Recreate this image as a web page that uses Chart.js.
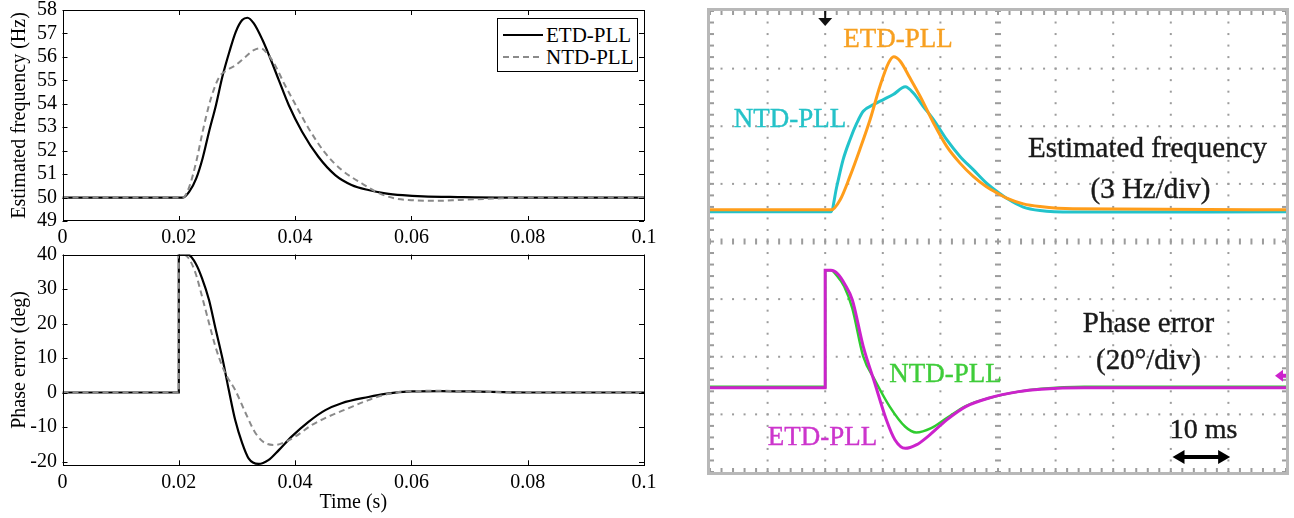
<!DOCTYPE html>
<html>
<head>
<meta charset="utf-8">
<title>ETD-PLL / NTD-PLL</title>
<script src="https://cdn.jsdelivr.net/npm/chart.js@4.4.1/dist/chart.umd.min.js"></script>
<style>
    html, body { margin: 0; padding: 0; background: #fff; }
    body {
        width: 1294px; height: 518px; position: relative; overflow: hidden;
        font-family: 'Liberation Serif', 'Times New Roman', serif;
    }
    canvas { position: absolute; }
    #freqChart { left: 0; top: 0; }
    #phaseChart { left: 0; top: 244px; }

    /* MATLAB style legend */
    .legend {
        position: absolute; left: 497px; top: 18px; width: 141px; height: 54px;
        box-sizing: border-box; border: 1px solid #000; background: #fff;
        padding: 5px 0 0 5px; font-size: 21px; color: #000;
    }
    .legend-item { display: flex; align-items: center; height: 22px; line-height: 22px; }
    .legend-item svg { width: 40px; height: 22px; margin-right: 3px; flex: none; }

    /* oscilloscope screenshot */
    #scopeWrap { position: absolute; left: 700px; top: 0; width: 594px; height: 518px; filter: blur(0.5px); }
    #scopeChart { left: 0; top: 0; }
    .scope-label {
        position: absolute; transform: translate(-50%, -50%);
        line-height: 1; white-space: nowrap;
        -webkit-text-stroke: 0.4px currentColor;
    }
</style>
</head>
<body>
<canvas id="freqChart" width="670" height="250"></canvas>
<canvas id="phaseChart" width="670" height="274"></canvas>
<div class="legend" id="simLegend"></div>

<div id="scopeWrap">
    <canvas id="scopeChart" width="594" height="490"></canvas>
    <div class="scope-label" style="left:198px; top:37.5px; font-size:27px; color:#f7a021;">ETD-PLL</div>
    <div class="scope-label" style="left:90px; top:117.5px; font-size:27px; color:#25c2c8;">NTD-PLL</div>
    <div class="scope-label" style="left:447.5px; top:147px; font-size:29px; color:#1a1a1a;">Estimated frequency</div>
    <div class="scope-label" style="left:450.5px; top:187.5px; font-size:29px; color:#1a1a1a;">(3 Hz/div)</div>
    <div class="scope-label" style="left:448.5px; top:322px; font-size:29px; color:#1a1a1a;">Phase error</div>
    <div class="scope-label" style="left:448.5px; top:359px; font-size:29px; color:#1a1a1a;">(20°/div)</div>
    <div class="scope-label" style="left:245.5px; top:372.5px; font-size:27px; color:#3fcc3a;">NTD-PLL</div>
    <div class="scope-label" style="left:122.5px; top:436px; font-size:27px; color:#cc35cc;">ETD-PLL</div>
    <div class="scope-label" style="left:503.5px; top:428.5px; font-size:28px; color:#1a1a1a;">10 ms</div>
</div>

<script>
// ===== 仿真结果 (左) =====
const SERIES_LABELS = ['ETD-PLL', 'NTD-PLL'];

const TIME_TICKS = [0, 0.02, 0.04, 0.06, 0.08, 0.1];
const TIME_LABELS = ['0', '0.02', '0.04', '0.06', '0.08', '0.1'];
const FREQ_TICKS = [49, 50, 51, 52, 53, 54, 55, 56, 57, 58];
const PHASE_TICKS = [-20, -10, 0, 10, 20, 30, 40];

// 估计频率 (Hz)
const freqEtdTime = [0, 0.0207, 0.0218, 0.023, 0.0241, 0.0252, 0.0264, 0.0275, 0.0287, 0.0298, 0.0309, 0.0318, 0.0329, 0.0344, 0.0355, 0.0372, 0.0389, 0.0412, 0.044, 0.0469, 0.0497, 0.0526, 0.0555, 0.0585, 0.062, 0.068, 0.075, 0.1];
const freqEtdHz = [50, 50, 50.25, 50.82, 51.68, 52.81, 53.95, 55.16, 56.22, 57.07, 57.57, 57.67, 57.43, 56.72, 56.08, 55.01, 53.95, 52.81, 51.74, 50.96, 50.54, 50.32, 50.18, 50.1, 50.05, 50.02, 50, 50];
const freqNtdTime = [0, 0.0207, 0.0218, 0.023, 0.0241, 0.0252, 0.0261, 0.027, 0.0281, 0.0298, 0.0315, 0.0329, 0.0341, 0.0352, 0.0367, 0.0381, 0.0401, 0.0423, 0.0452, 0.048, 0.0515, 0.0543, 0.0572, 0.06, 0.064, 0.0685, 0.0743, 0.08, 0.1];
const freqNtdHz = [50, 50, 50.46, 51.53, 52.81, 53.95, 54.66, 55.16, 55.4, 55.65, 56.01, 56.29, 56.37, 56.15, 55.58, 54.87, 53.95, 52.96, 51.89, 51.18, 50.6, 50.2, 49.96, 49.89, 49.86, 49.9, 49.96, 50, 50];

// 相位误差 (deg)
const phaseEtdTime = [0, 0.02, 0.02, 0.0207, 0.0217, 0.0229, 0.024, 0.0252, 0.0263, 0.0275, 0.0286, 0.0297, 0.0309, 0.032, 0.0337, 0.0354, 0.0372, 0.0394, 0.0423, 0.0452, 0.048, 0.0526, 0.0555, 0.06, 0.065, 0.07, 0.08, 0.1];
const phaseEtdDeg = [0, 0, 40, 40, 39.9, 37.4, 33.1, 26.8, 18.6, 9.9, 0.7, -8.0, -14.7, -19.1, -20.7, -19.6, -16.7, -12.8, -8.5, -5.1, -3.1, -1.3, -0.4, 0.3, 0.4, 0.3, 0, 0];
const phaseNtdTime = [0, 0.02, 0.02, 0.0207, 0.0217, 0.0229, 0.024, 0.0252, 0.0263, 0.0275, 0.0283, 0.0297, 0.0315, 0.0332, 0.0349, 0.0366, 0.0383, 0.04, 0.0429, 0.0457, 0.0491, 0.0526, 0.0555, 0.06, 0.065, 0.07, 0.08, 0.1];
const phaseNtdDeg = [0, 0, 40, 40, 38.9, 34.5, 27.8, 20.1, 13.3, 7.5, 4.6, 0.7, -6.0, -11.8, -14.7, -15.2, -14.3, -12.8, -9.4, -7.0, -4.6, -2.2, -0.6, 0.4, 0.5, 0.3, 0, 0];

// ===== 示波器实测 (右), 时间单位 ms =====
const scopeFreqEtdMs = [0, 21.1, 22.6, 24.3, 26.0, 27.8, 29.5, 31.0, 31.9, 33.0, 34.7, 36.5, 38.8, 41.1, 43.4, 45.7, 48.0, 50.3, 51.5, 54.4, 57.3, 63, 100];
const scopeFreqEtdHz = [50, 50, 50.52, 51.74, 53.13, 54.7, 56.43, 57.65, 57.97, 57.75, 56.87, 55.9, 54.52, 53.3, 52.43, 51.74, 51.2, 50.8, 50.61, 50.31, 50.17, 50.05, 50];
const scopeFreqNtdMs = [0, 21.0, 22.0, 23.1, 24.3, 25.5, 26.6, 28.4, 30.1, 31.8, 33.9, 35.3, 37.0, 38.8, 41.1, 43.4, 45.7, 48.0, 50.3, 51.5, 54.4, 57.3, 63, 100];
const scopeFreqNtdHz = [49.9, 49.9, 51.2, 52.6, 53.65, 54.52, 55.13, 55.48, 55.74, 56.0, 56.4, 56.08, 55.39, 54.7, 53.65, 52.78, 52.09, 51.39, 50.85, 50.6, 50.14, 49.96, 49.88, 49.9];
const scopePhaseEtdMs = [0, 20, 20, 21.0, 22.2, 23.4, 24.7, 26.6, 28.6, 30.6, 32.1, 33.9, 35.8, 37.8, 41.1, 44.4, 48.3, 53.6, 57.5, 65, 100];
const scopePhaseEtdDeg = [0, 0, 40.8, 40.8, 39.5, 36, 30.6, 14.4, 1.7, -11, -18, -21, -19.8, -16.9, -11.1, -6.5, -3.6, -1.3, -0.5, 0, 0];
const scopePhaseNtdMs = [0, 20, 20, 21.0, 22.0, 23.3, 24.7, 26.6, 28.6, 31.2, 33.9, 35.8, 38.4, 41.1, 44.4, 48.3, 53.6, 57.5, 65, 100];
const scopePhaseNtdDeg = [0.4, 0.4, 40.8, 40.8, 39, 35.2, 27.7, 10.9, 2.8, -6.5, -13.5, -15.5, -14.0, -10.5, -6.3, -3.6, -1.3, -0.3, 0.4, 0.4];

// 示波器刻度: 10 格 x 8 格
const SCOPE_TIME_MS = 100;
const FREQ_PER_DIV = 3;       // Hz/div
const FREQ_REF = 50;          // 频率通道基准
const FREQ_REF_DIV = 0.55;    // 基准所在格
const PHASE_PER_DIV = 20;     // deg/div
const PHASE_REF_DIV = -2.54;
const TRIGGER_MS = 20;
const PHASE_MARKER_DEG = 4.2;
const SCALE_BAR_MS = [80.3, 90.3];
const SCALE_BAR_DEG = -24;

const SERIF = "'Liberation Serif', 'Times New Roman', serif";
Chart.defaults.font.family = SERIF;
Chart.defaults.color = '#000';

const toPoints = (xs, ys) => xs.map((x, i) => ({ x, y: ys[i] }));

/**
 * MATLAB 风格外框 + 向内刻度
 */
const matlabBox = {
    id: 'matlabBox',
    afterDraw(chart) {
        const { ctx, chartArea: a, scales: { x, y } } = chart;
        const len = 5;
        ctx.save();
        ctx.strokeStyle = '#000';
        ctx.lineWidth = 1;
        ctx.strokeRect(Math.round(a.left) + 0.5, Math.round(a.top) + 0.5,
            Math.round(a.right - a.left) - 1, Math.round(a.bottom - a.top) - 1);
        ctx.beginPath();
        x.ticks.forEach(t => {
            const px = Math.round(x.getPixelForValue(t.value)) + 0.5;
            ctx.moveTo(px, a.top); ctx.lineTo(px, a.top + len);
            ctx.moveTo(px, a.bottom); ctx.lineTo(px, a.bottom - len);
        });
        y.ticks.forEach(t => {
            const py = Math.round(y.getPixelForValue(t.value)) + 0.5;
            ctx.moveTo(a.left, py); ctx.lineTo(a.left + len, py);
            ctx.moveTo(a.right, py); ctx.lineTo(a.right - len, py);
        });
        ctx.stroke();
        ctx.restore();
    }
};

function simDatasets(etdX, etdY, ntdX, ntdY) {
    return [
        {
            label: SERIES_LABELS[0],
            data: toPoints(etdX, etdY),
            borderColor: '#000',
            borderWidth: 2.2,
            order: 2
        },
        {
            label: SERIES_LABELS[1],
            data: toPoints(ntdX, ntdY),
            borderColor: '#8a8a8a',
            borderWidth: 2,
            borderDash: [6, 4],
            order: 1
        }
    ];
}

function simChart(canvasId, datasets, cfg) {
    return new Chart(document.getElementById(canvasId), {
        type: 'line',
        data: { datasets },
        options: {
            responsive: false,
            animation: false,
            devicePixelRatio: 1,
            layout: { padding: { left: 0, right: 26, top: cfg.padTop, bottom: 0 } },
            plugins: { legend: { display: false }, tooltip: { enabled: false } },
            elements: {
                point: { radius: 0 },
                line: { cubicInterpolationMode: 'monotone', fill: false }
            },
            scales: {
                x: {
                    type: 'linear', min: 0, max: 0.1,
                    grid: { display: false, drawTicks: false }, border: { display: false },
                    afterBuildTicks: s => { s.ticks = TIME_TICKS.map(v => ({ value: v })); },
                    ticks: {
                        autoSkip: false, maxRotation: 0, padding: 5,
                        font: { size: 20 }, color: '#000',
                        callback: (v, i) => TIME_LABELS[i]
                    },
                    title: {
                        display: cfg.xTitle, text: 'Time (s)', color: '#000',
                        font: { size: 20 }, padding: { top: 0, bottom: 3 }
                    },
                    afterFit: s => { s.height = cfg.xHeight; s.paddingLeft = 0; s.paddingRight = 0; }
                },
                y: {
                    type: 'linear', min: cfg.yMin, max: cfg.yMax,
                    grid: { display: false, drawTicks: false }, border: { display: false },
                    afterBuildTicks: s => { s.ticks = cfg.yTicks.map(v => ({ value: v })); },
                    ticks: {
                        autoSkip: false, padding: 5.5,
                        font: { size: 20 }, color: '#000'
                    },
                    title: {
                        display: true, text: cfg.yTitle, color: '#000',
                        font: { size: 20 }, padding: { top: 8, bottom: 0 }
                    },
                    afterFit: s => { s.width = 62.5; s.paddingTop = 0; s.paddingBottom = 0; }
                }
            }
        },
        plugins: [matlabBox]
    });
}

const freqChart = simChart('freqChart',
    simDatasets(freqEtdTime, freqEtdHz, freqNtdTime, freqNtdHz),
    { padTop: 10, xHeight: 29, xTitle: false, yMin: 49, yMax: 58, yTicks: FREQ_TICKS, yTitle: 'Estimated frequency (Hz)' });

simChart('phaseChart',
    simDatasets(phaseEtdTime, phaseEtdDeg, phaseNtdTime, phaseNtdDeg),
    { padTop: 10.5, xHeight: 52.7, xTitle: true, yMin: -21.1, yMax: 40, yTicks: PHASE_TICKS, yTitle: 'Phase error (deg)' });

// 图例 (HTML)
(function renderLegend() {
    const box = document.getElementById('simLegend');
    box.innerHTML = freqChart.data.datasets.map(ds => {
        const dash = ds.borderDash ? `stroke-dasharray="${ds.borderDash.join(' ')}"` : '';
        return `
            <div class="legend-item">
                <svg viewBox="0 0 40 22"><line x1="0" y1="11" x2="40" y2="11" stroke="${ds.borderColor}" stroke-width="${ds.borderWidth}" ${dash}/></svg>
                <span>${ds.label}</span>
            </div>`;
    }).join('');
})();

/**
 * 示波器网格: 虚点分格线 + 中心十字刻度 + 边框刻度
 */
const scopeGraticule = {
    id: 'scopeGraticule',
    beforeDatasetsDraw(chart) {
        const { ctx, chartArea: a, scales: { x, div } } = chart;
        const minorX = [], minorY = [];
        for (let i = 0; i <= 50; i++) minorX.push(x.getPixelForValue(i * SCOPE_TIME_MS / 50));
        for (let i = 0; i <= 40; i++) minorY.push(div.getPixelForValue(-4 + i * 0.2));

        ctx.save();
        ctx.fillStyle = '#9c9c9c';
        for (let k = 1; k < 10; k++) {
            if (k === 5) continue;
            const px = x.getPixelForValue(k * SCOPE_TIME_MS / 10);
            minorY.forEach(py => ctx.fillRect(px - 1, py - 1, 2, 2));
        }
        for (let k = -3; k <= 3; k++) {
            if (k === 0) continue;
            const py = div.getPixelForValue(k);
            minorX.forEach(px => ctx.fillRect(px - 1, py - 1, 2, 2));
        }
        const cx = x.getPixelForValue(SCOPE_TIME_MS / 2);
        const cy = div.getPixelForValue(0);
        minorX.forEach(px => ctx.fillRect(px - 1, cy - 3, 2, 6));
        minorY.forEach(py => ctx.fillRect(cx - 3, py - 1, 6, 2));
        minorX.forEach(px => {
            ctx.fillRect(px - 1, a.top, 2, 4);
            ctx.fillRect(px - 1, a.bottom - 4, 2, 4);
        });
        minorY.forEach(py => {
            ctx.fillRect(a.left, py - 1, 4, 2);
            ctx.fillRect(a.right - 4, py - 1, 4, 2);
        });
        ctx.strokeStyle = '#b8b8b8';
        ctx.lineWidth = 3;
        ctx.strokeRect(a.left - 1.5, a.top - 1.5, a.right - a.left + 3, a.bottom - a.top + 3);
        ctx.restore();
    }
};

/**
 * 示波器标记: 触发箭头, 通道参考标记, 10 ms 标尺
 */
const scopeMarkers = {
    id: 'scopeMarkers',
    afterDatasetsDraw(chart) {
        const { ctx, chartArea: a, scales: { x, yp } } = chart;
        ctx.save();

        // 触发位置
        const tx = x.getPixelForValue(TRIGGER_MS);
        ctx.fillStyle = '#111';
        ctx.fillRect(tx - 1, a.top, 2, 8);
        ctx.beginPath();
        ctx.moveTo(tx - 7, a.top + 7);
        ctx.lineTo(tx + 7, a.top + 7);
        ctx.lineTo(tx, a.top + 15);
        ctx.closePath();
        ctx.fill();

        // 相位通道参考
        const my = yp.getPixelForValue(PHASE_MARKER_DEG);
        ctx.fillStyle = '#cc22cc';
        ctx.beginPath();
        ctx.moveTo(a.right - 11, my);
        ctx.lineTo(a.right - 3, my - 6);
        ctx.lineTo(a.right - 3, my + 6);
        ctx.closePath();
        ctx.fill();
        ctx.fillRect(a.right - 4, my - 2, 4, 4);

        // 10 ms 标尺
        const x1 = x.getPixelForValue(SCALE_BAR_MS[0]);
        const x2 = x.getPixelForValue(SCALE_BAR_MS[1]);
        const by = yp.getPixelForValue(SCALE_BAR_DEG);
        ctx.fillStyle = '#000';
        ctx.strokeStyle = '#000';
        ctx.lineWidth = 4;
        ctx.beginPath();
        ctx.moveTo(x1 + 8, by);
        ctx.lineTo(x2 - 8, by);
        ctx.stroke();
        [[x1, 1], [x2, -1]].forEach(([px, dir]) => {
            ctx.beginPath();
            ctx.moveTo(px, by);
            ctx.lineTo(px + dir * 12, by - 7);
            ctx.lineTo(px + dir * 12, by + 7);
            ctx.closePath();
            ctx.fill();
        });
        ctx.restore();
    }
};

new Chart(document.getElementById('scopeChart'), {
    type: 'line',
    data: {
        datasets: [
            { label: 'NTD-PLL', data: toPoints(scopeFreqNtdMs, scopeFreqNtdHz), yAxisID: 'yf', borderColor: '#22c3cb', borderWidth: 3, order: 4 },
            { label: 'ETD-PLL', data: toPoints(scopeFreqEtdMs, scopeFreqEtdHz), yAxisID: 'yf', borderColor: '#ff9d1a', borderWidth: 3, order: 3 },
            { label: 'NTD-PLL', data: toPoints(scopePhaseNtdMs, scopePhaseNtdDeg), yAxisID: 'yp', borderColor: '#2fcc2f', borderWidth: 2.5, order: 2 },
            { label: 'ETD-PLL', data: toPoints(scopePhaseEtdMs, scopePhaseEtdDeg), yAxisID: 'yp', borderColor: '#cc22cc', borderWidth: 3, order: 1 }
        ]
    },
    options: {
        responsive: false,
        animation: false,
        devicePixelRatio: 1,
        layout: { padding: { left: 10, right: 8, top: 11, bottom: 18 } },
        plugins: { legend: { display: false }, tooltip: { enabled: false } },
        elements: {
            point: { radius: 0 },
            line: { cubicInterpolationMode: 'monotone', fill: false }
        },
        scales: {
            x: { type: 'linear', min: 0, max: SCOPE_TIME_MS, display: false },
            div: { axis: 'y', type: 'linear', min: -4, max: 4, display: false },
            yf: {
                type: 'linear', display: false,
                min: FREQ_REF - (4 + FREQ_REF_DIV) * FREQ_PER_DIV,
                max: FREQ_REF + (4 - FREQ_REF_DIV) * FREQ_PER_DIV
            },
            yp: {
                type: 'linear', display: false,
                min: -(4 + PHASE_REF_DIV) * PHASE_PER_DIV,
                max: (4 - PHASE_REF_DIV) * PHASE_PER_DIV
            }
        }
    },
    plugins: [scopeGraticule, scopeMarkers]
});
</script>
</body>
</html>
